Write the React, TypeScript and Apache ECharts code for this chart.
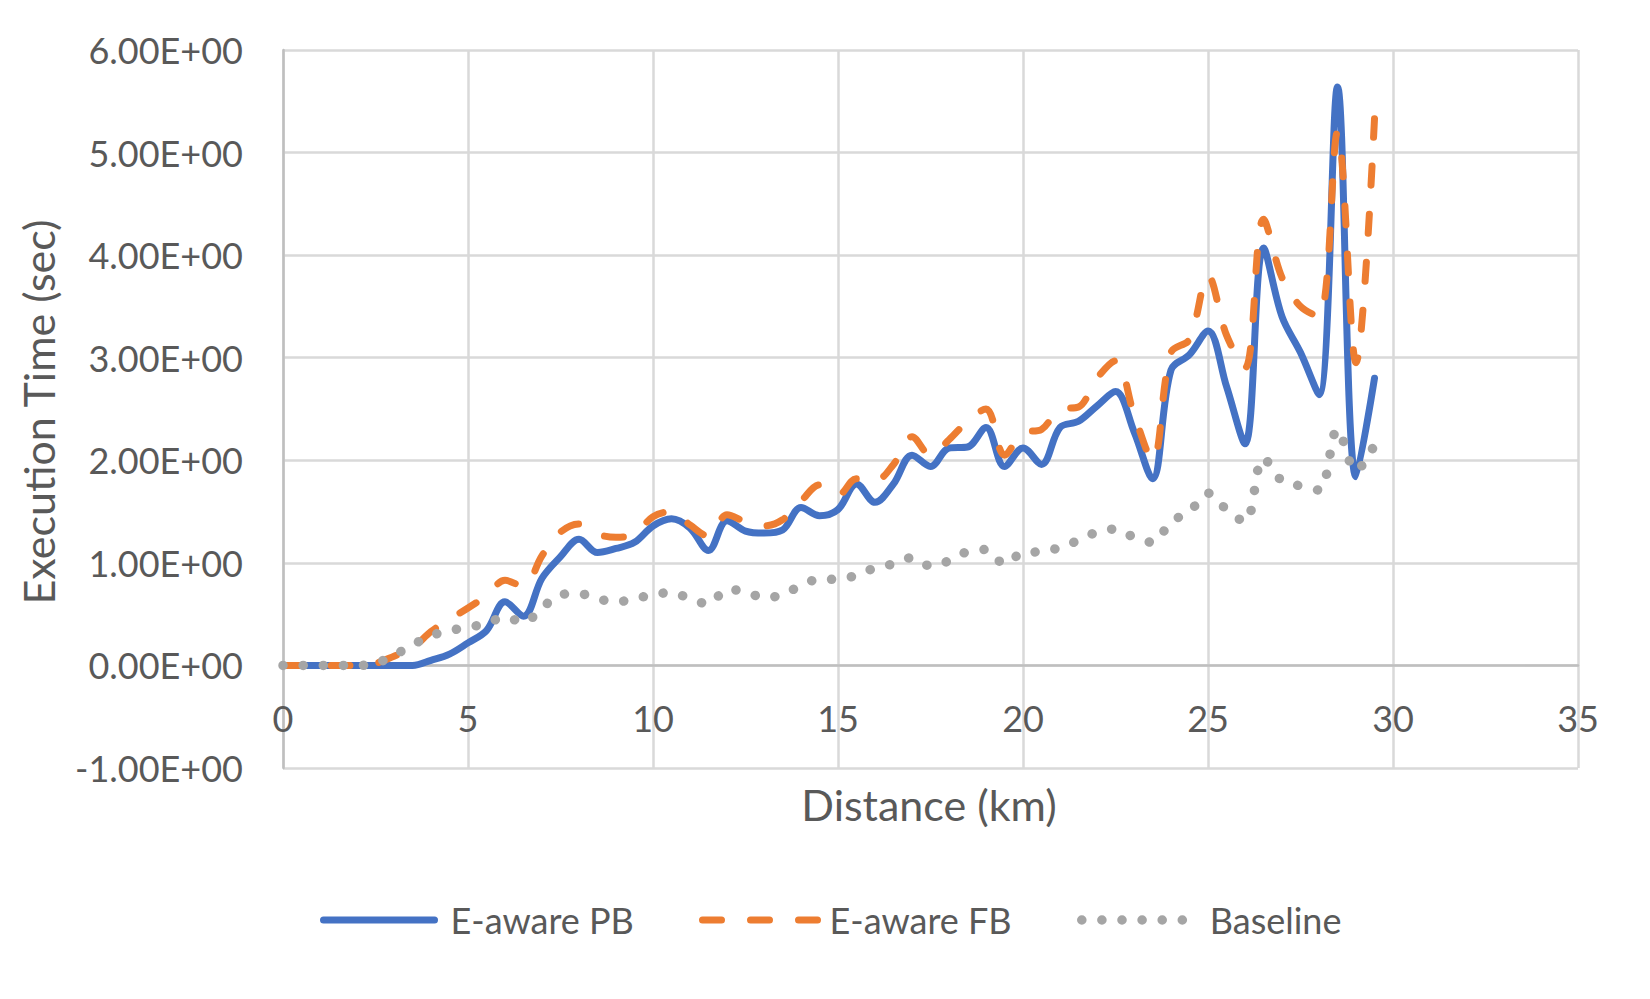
import React, { useEffect, useRef } from "react";
import * as echarts from "echarts";

const distances = [
  0, 0.5, 1, 1.5, 2, 2.5, 3, 3.5, 4, 4.5, 5, 5.5, 6, 6.5, 7, 7.5, 8, 8.5, 9, 9.5,
  10, 10.5, 11, 11.5, 12, 12.5, 13, 13.5, 14, 14.5, 15, 15.5, 16, 16.5, 17, 17.5, 18, 18.5, 19, 19.5,
  20, 20.5, 21, 21.5, 22, 22.5, 23, 23.5, 24, 24.5, 25, 25.5, 26, 26.5, 27, 27.5, 28, 28.5, 29, 29.5,
];

const eawarePB = [
  0, 0, 0, 0, 0, 0, 0, 0, 0.05, 0.11, 0.22, 0.34, 0.62, 0.48, 0.85, 1.06, 1.23, 1.1, 1.14, 1.2,
  1.36, 1.43, 1.34, 1.12, 1.41, 1.31, 1.29, 1.32, 1.54, 1.46, 1.52, 1.77, 1.59, 1.77, 2.05, 1.94, 2.12, 2.13, 2.32, 1.94,
  2.12, 1.96, 2.32, 2.38, 2.53, 2.67, 2.28, 1.82, 2.88, 3.03, 3.26, 2.72, 2.16, 4.07, 3.4, 3.05, 2.64, 5.64, 1.84, 2.8,
];

const eawareFB = [
  0, 0, 0, 0, 0, 0.02, 0.09, 0.17, 0.33, 0.45, 0.56, 0.68, 0.83, 0.77, 1.07, 1.3, 1.38, 1.28, 1.25, 1.28,
  1.45, 1.5, 1.37, 1.26, 1.47, 1.4, 1.36, 1.42, 1.6, 1.76, 1.66, 1.82, 1.8, 1.96, 2.23, 2.05, 2.2, 2.38, 2.5, 2.05,
  2.27, 2.3, 2.5, 2.52, 2.8, 2.97, 2.45, 2.0, 3.05, 3.18, 3.8, 3.22, 2.9, 4.35, 3.78, 3.5, 3.4, 5.2, 2.95, 5.33,
];

const baseline = [
  0, 0, 0, 0, 0, 0.02, 0.1, 0.2, 0.29, 0.34, 0.37, 0.41, 0.47, 0.42, 0.56, 0.69, 0.7, 0.65, 0.62, 0.65,
  0.69, 0.71, 0.65, 0.6, 0.74, 0.72, 0.66, 0.69, 0.78, 0.84, 0.84, 0.88, 0.95, 0.99, 1.05, 0.97, 1.02, 1.11, 1.13, 0.99,
  1.1, 1.11, 1.15, 1.22, 1.3, 1.33, 1.25, 1.2, 1.4, 1.5, 1.68, 1.52, 1.4, 2.02, 1.8, 1.75, 1.71, 2.3, 1.9, 2.15,
];

const seriesNames = ["E-aware PB", "E-aware FB", "Baseline"];
const seriesColors = ["#4472C4", "#ED7D31", "#A5A5A5"];

const FONT = "Lato, 'Open Sans', 'DejaVu Sans', sans-serif";
const TEXT = "#595959";

function sci(v: number): string {
  const s = v.toExponential(2);
  const [m, ex] = s.split("e");
  const n = parseInt(ex, 10);
  return m + "E" + (n < 0 ? "-" : "+") + String(Math.abs(n)).padStart(2, "0");
}

function pairs(vals: number[]) {
  return distances.map((d, i) => [d, vals[i]]);
}

export default function App() {
  const ref = useRef<HTMLDivElement>(null);

  useEffect(() => {
    document.body.style.margin = "0";
    if (!ref.current) return;
    const chart = echarts.init(ref.current, undefined, { renderer: "svg" });

    const dashTypes: any[] = ["solid", [19, 29], [0.1, 20]];
    const widths = [7, 7, 9.5];
    const legendLefts = [315, 694, 1072];
    const legendIconW = [111, 115, 115];
    const legendTextPad = [11, 7, 8];

    chart.setOption({
      animation: false,
      backgroundColor: "#ffffff",
      grid: { left: 283, right: 72, top: 50, bottom: 231, containLabel: false },
      xAxis: {
        type: "value",
        min: 0,
        max: 35,
        interval: 5,
        offset: -102.4,
        axisLine: { show: true, onZero: false, lineStyle: { color: "#BFBFBF", width: 2.5 } },
        axisTick: { show: false },
        axisLabel: { margin: 34, fontSize: 36, fontFamily: FONT, color: TEXT },
        splitLine: { show: true, lineStyle: { color: "#D9D9D9", width: 2.5 } },
      },
      yAxis: {
        type: "value",
        min: -1,
        max: 6,
        interval: 1,
        axisLine: { show: true, lineStyle: { color: "#BFBFBF", width: 2.5 } },
        axisTick: { show: false },
        axisLabel: {
          margin: 40,
          fontSize: 36,
          fontFamily: FONT,
          color: TEXT,
          padding: [0, 0, 8, 0],
          formatter: (v: number) => sci(v),
        },
        splitLine: { show: true, lineStyle: { color: "#D9D9D9", width: 2.5 } },
      },
      legend: seriesNames.map((name, i) => ({
        data: [name],
        left: legendLefts[i],
        top: 897,
        orient: "horizontal",
        itemWidth: legendIconW[i],
        itemHeight: 36,
        selectedMode: false,
        textStyle: {
          fontSize: 36,
          fontFamily: FONT,
          color: TEXT,
          padding: [0, 0, 0, legendTextPad[i]],
        },
        itemStyle: { opacity: 0 },
        lineStyle: {
          width: widths[i],
          color: seriesColors[i],
          type: dashTypes[i],
          cap: "round",
        },
      })),
      series: [eawarePB, eawareFB, baseline].map((vals, i) => ({
        name: seriesNames[i],
        type: "line",
        data: pairs(vals),
        smooth: 0.35,
        symbol: "none",
        showSymbol: false,
        color: seriesColors[i],
        lineStyle: {
          color: seriesColors[i],
          width: widths[i],
          type: dashTypes[i],
          cap: "round",
          join: "round",
        },
        z: 2 + i,
      })),
      graphic: [
        {
          type: "text",
          x: 38,
          y: 412,
          rotation: Math.PI / 2,
          style: {
            text: "Execution Time (sec)",
            fontSize: 43,
            fontFamily: FONT,
            fill: TEXT,
            align: "center",
            verticalAlign: "middle",
          },
        },
        {
          type: "text",
          x: 929,
          y: 804,
          style: {
            text: "Distance (km)",
            fontSize: 43,
            fontFamily: FONT,
            fill: TEXT,
            align: "center",
            verticalAlign: "middle",
          },
        },
      ],
    });

    return () => chart.dispose();
  }, []);

  return <div ref={ref} style={{ width: 1650, height: 999 }} />;
}
